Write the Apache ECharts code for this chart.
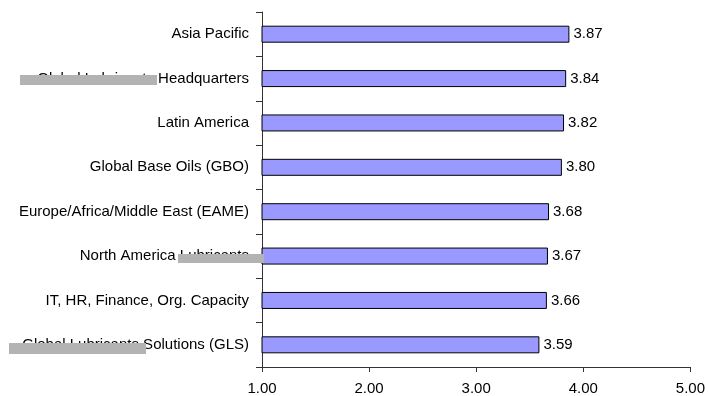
<!DOCTYPE html>
<html>
<head>
<meta charset="utf-8">
<script src="https://cdn.jsdelivr.net/npm/echarts@6/dist/echarts.min.js"></script>
<style>
  html, body { margin: 0; padding: 0; background: #fff; }
  #chart { width: 708px; height: 396px; }
</style>
</head>
<body>
<div id="chart"></div>
<script>
const categories = [
  'Asia Pacific',
  'Global Lubricants Headquarters',
  'Latin America',
  'Global Base Oils (GBO)',
  'Europe/Africa/Middle East (EAME)',
  'North America Lubricants',
  'IT, HR, Finance, Org. Capacity',
  'Global Lubricants Solutions (GLS)'
]
const scores = [3.87, 3.84, 3.82, 3.80, 3.68, 3.67, 3.66, 3.59]
const axisMin = 1
const axisMax = 5

const chart = echarts.init(document.getElementById('chart'))

// grey redaction strips sitting over some of the labels
const redactions = [
  { x: 20, y: 75, w: 137, h: 10 },
  { x: 178, y: 254, w: 86, h: 9 },
  { x: 9, y: 343, w: 137, h: 11 }
]

const font = 'Arial, "Liberation Sans", sans-serif'

chart.setOption({
  animation: false,
  grid: { left: 262, right: 16, top: 12, bottom: 28 },
  xAxis: {
    type: 'value',
    min: axisMin,
    max: axisMax,
    interval: 1,
    splitLine: { show: false },
    axisLine: { show: true, lineStyle: { color: '#333', width: 1 } },
    axisTick: { show: true, length: 5, lineStyle: { color: '#333' } },
    axisLabel: {
      color: '#000',
      fontSize: 15,
      fontFamily: font,
      margin: 14,
      formatter: (v) => v.toFixed(2)
    }
  },
  yAxis: {
    type: 'category',
    data: categories,
    inverse: true,
    axisLine: { show: true, lineStyle: { color: '#333', width: 1 } },
    axisTick: { show: true, length: 6, lineStyle: { color: '#333' } },
    axisLabel: { color: '#000', fontSize: 15, fontFamily: font, margin: 13 }
  },
  series: [
    {
      type: 'bar',
      data: scores,
      barWidth: 17,
      itemStyle: { color: '#9999ff', borderColor: '#000', borderWidth: 1 },
      label: {
        show: true,
        position: 'right',
        distance: 4,
        color: '#000',
        fontSize: 15,
        fontFamily: font,
        formatter: (p) => p.value.toFixed(2)
      }
    }
  ],
  graphic: redactions.map((r) => ({
    type: 'rect',
    z: 100,
    shape: { x: r.x, y: r.y, width: r.w, height: r.h },
    style: { fill: '#b3b3b3' }
  }))
})
</script>
</body>
</html>
